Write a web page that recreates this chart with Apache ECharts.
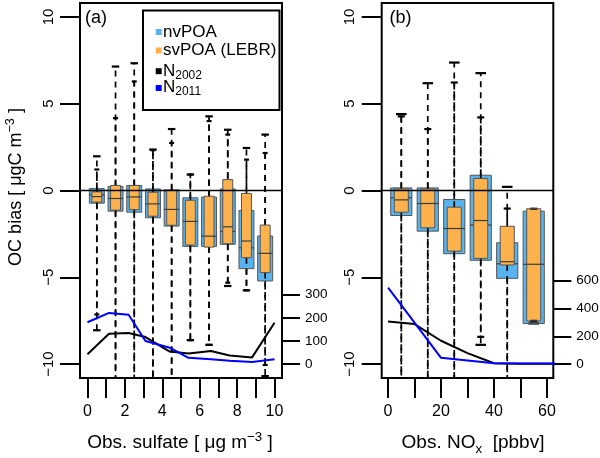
<!DOCTYPE html>
<html><head><meta charset="utf-8">
<script src="https://cdn.jsdelivr.net/npm/echarts@6/dist/echarts.min.js"></script>
<style>html,body{margin:0;padding:0;background:#fff}#c{width:600px;height:458px}</style>
</head><body><div id="c"></div>
<script>
// ---------------- DATA ----------------
// Panel (a): bins of observed sulfate (bin centres, µg m-3)
const sulfateBins = [0.5, 1.5, 2.5, 3.5, 4.5, 5.5, 6.5, 7.5, 8.5, 9.5];
// each row: [lower whisker, Q1, median, Q3, upper whisker]  (OC bias, µgC m-3)
const nvPOA_sulfate = [
  [-8.05, -0.73, -0.25,  0.11, 1.97],
  [-11.5, -1.19, -0.46,  0.23, 7.14],
  [-11.5, -1.25, -0.37,  0.29, 7.33],
  [-11.5, -1.57, -0.77,  0.09, 2.36],
  [-11.5, -2.05, -1.09,  0.04, 3.54],
  [-8.62, -3.22, -1.78, -0.42, 0.92],
  [-8.89, -3.22, -2.63, -0.38, 4.27],
  [-5.50, -3.10, -2.36,  0.09, 3.50],
  [-5.75, -4.50, -3.30, -1.15, 2.45],
  [-10.69,-5.21, -3.62, -2.62, 3.22]
];
const svPOA_sulfate = [
  [-7.14, -0.67, -0.35, -0.08, 1.21],
  [-11.5, -1.13, -0.46,  0.29, 4.17],
  [-11.5, -1.10, -0.37,  0.29, 6.28],
  [-11.5, -1.48, -0.77, -0.10, 2.32],
  [-11.5, -2.00, -1.09,  0.00, 2.74],
  [-8.62, -3.14, -1.78, -0.56, 0.92],
  [-8.89, -3.26, -2.63, -0.33, 4.00],
  [-5.31, -3.07, -2.09,  0.63, 3.22],
  [-5.75, -3.87, -2.91, -0.17, 1.78],
  [-10.05,-4.73, -3.62, -1.99, 2.16]
];
// number of sites (right axis), panel (a)
const N_sulfate_x = [0, 1.15, 2.2, 3.1, 4.4, 5.4, 6.6, 7.6, 8.8, 10];
const N2002_sulfate = [43, 131, 134, 117, 54, 46, 57, 37, 29, 179];
const N2011_sulfate = [181, 221, 213, 100, 71, 27, 21, 15, 9, 21];

// Panel (b): bins of observed NOx (bin centres, ppbv)
const noxBins = [5, 15, 25, 35, 45, 55];
const nvPOA_nox = [
  [-11.5, -1.44, -0.42,  0.15,  4.40],
  [-11.5, -2.34, -0.75,  0.15,  6.18],
  [-11.5, -3.64, -2.19, -0.52,  7.37],
  [-8.89, -4.02, -1.99,  0.88,  6.76],
  [-11.5, -5.06, -4.22, -3.01,  0.21],
  [-7.66, -7.66, -4.25, -1.19, -1.19]
];
const svPOA_nox = [
  [-11.5, -1.25, -0.54,  0.09,  4.27],
  [-11.5, -2.15, -0.75,  0.09,  3.54],
  [-11.5, -3.49, -2.19, -0.96,  6.22],
  [-8.43, -3.91, -1.73,  0.69,  4.21],
  [-11.5, -4.29, -4.10, -2.06, -1.04],
  [-7.51, -7.51, -4.25, -1.05, -1.05]
];
const N_nox_x = [0, 10, 20, 30, 40, 50, 60, 70];
const N2002_nox = [307, 288, 168, 79, 6, 3, 3, 3];
const N2011_nox = [550, 298, 45, 26, 6, 4, 4, 4];

// tick values
const biasTicks = [-10, 10, 5];      // min, max, step
const sulfateTicks = [0, 10, 1, 2];  // min, max, tick step, label step
const noxTicks = [0, 60, 10, 20];
const nSulfateTicks = [0, 300, 100];
const nNoxTicks = [0, 600, 200];

// ---------------- LAYOUT / STYLE ----------------
const FONT = '"Liberation Sans", Arial, Helvetica, sans-serif';
const BLUE_FILL = '#58b4ef', ORANGE_FILL = '#fdb24d', EDGE = '#555555';
const PA = {left: 80, right: 282, top: 3, bottom: 378, xmin: -0.4, xmax: 10.4, ymin: -10.8, ymax: 10.8, bw: 1, nTop: -6};
const PB = {left: 381.7, right: 553.3, top: 3, bottom: 378, xmin: -2.4, xmax: 62.4, ymin: -10.8, ymax: 10.8, bw: 10, nTop: -5.2};
const px = (P, x) => P.left + (x - P.xmin) / (P.xmax - P.xmin) * (P.right - P.left);
const py = (P, y) => P.top + (P.ymax - y) / (P.ymax - P.ymin) * (P.bottom - P.top);
const minus = v => v < 0 ? '\u2212' + Math.abs(v) : String(v);
const NOLINE = {show: false, onZero: false};
const G = {containLabel: false, outerBoundsMode: 'none', show: false};
const TICK = (len) => ({show: true, inside: false, length: len, lineStyle: {color: '#000', width: 2}});

// grids per panel: 0 main box, 1 x ticks, 2 y ticks, 3 N axis
function grids(P, xt) {
  const tl = px(P, xt[0]), tr = px(P, xt[1]), tt = py(P, biasTicks[1]), tb = py(P, biasTicks[0]);
  return [
    Object.assign({}, G, {left: P.left, top: P.top, width: P.right - P.left, height: P.bottom - P.top, show: true,
     borderColor: '#000', borderWidth: 2, backgroundColor: 'rgba(0,0,0,0)'}),
    Object.assign({}, G, {left: tl, top: P.top, width: tr - tl, height: P.bottom - P.top}),
    Object.assign({}, G, {left: P.left, top: tt, width: P.right - P.left, height: tb - tt}),
    Object.assign({}, G, {left: P.left, top: py(P, P.nTop), width: P.right - P.left, height: py(P, -10) - py(P, P.nTop)})
  ];
}
function xAxes(P, xt, gi) {
  return [
    {gridIndex: gi, type: 'value', min: P.xmin, max: P.xmax, show: false, axisLine: NOLINE},
    {gridIndex: gi + 1, type: 'value', min: xt[0], max: xt[1], interval: xt[2], position: 'bottom',
     axisLine: NOLINE, splitLine: {show: false}, axisTick: TICK(20),
     axisLabel: {margin: 26, fontSize: 16, color: '#000', fontFamily: FONT,
                 formatter: v => (Math.round(v) % xt[3] === 0 ? String(v) : '')}},
    {gridIndex: gi + 2, type: 'value', min: P.xmin, max: P.xmax, show: false, axisLine: NOLINE},
    {gridIndex: gi + 3, type: 'value', min: P.xmin, max: P.xmax, show: false, axisLine: NOLINE}
  ];
}
function yAxes(P, nt, gi) {
  return [
    {gridIndex: gi, type: 'value', min: P.ymin, max: P.ymax, show: false, axisLine: NOLINE},
    {gridIndex: gi + 1, type: 'value', min: P.ymin, max: P.ymax, show: false, axisLine: NOLINE},
    {gridIndex: gi + 2, type: 'value', min: biasTicks[0], max: biasTicks[1], interval: biasTicks[2], position: 'left',
     axisLine: NOLINE, splitLine: {show: false}, axisTick: TICK(20),
     axisLabel: {margin: 24, rotate: 90, fontSize: 15, color: '#000', fontFamily: FONT, formatter: minus}},
    {gridIndex: gi + 3, type: 'value', min: nt[0], max: nt[1], interval: nt[2], position: 'right',
     axisLine: NOLINE, splitLine: {show: false}, axisTick: TICK(18),
     axisLabel: {margin: 23, fontSize: 13.5, color: '#000', fontFamily: FONT}}
  ];
}

function boxSeries(name, P, bins, stats, boxFrac, fill, gi, z) {
  const boxW = boxFrac * P.bw;
  return {
    type: 'custom', name, xAxisIndex: gi, yAxisIndex: gi, z, silent: true, animation: false,
    data: bins.map((x, i) => [x].concat(stats[i])),
    encode: {x: 0, y: [1, 2, 3, 4, 5]},
    renderItem: (params, api) => {
      const x = api.value(0), lo = api.value(1), q1 = api.value(2), med = api.value(3), q3 = api.value(4), hi = api.value(5);
      const cs = params.coordSys;
      const top = cs.y, bot = cs.y + cs.height;
      const cx = api.coord([x, 0])[0];
      const Y = v => api.coord([x, v])[1];
      const clampY = y => Math.min(bot, Math.max(top, y));
      const w = api.size([boxW, 0])[0];
      const y1 = Y(q1), y3 = Y(q3);
      const rt = Math.min(y1, y3), rh = Math.abs(y1 - y3);
      const ch = [];
      ch.push({type: 'rect', shape: {x: cx - w / 2, y: rt, width: w, height: rh}, style: {fill: fill}});
      ch.push({type: 'line', shape: {x1: cx, y1: y3, x2: cx, y2: clampY(Y(hi))}, style: {stroke: '#000', lineWidth: 1.7, lineDash: [6, 5]}});
      ch.push({type: 'line', shape: {x1: cx, y1: y1, x2: cx, y2: clampY(Y(lo))}, style: {stroke: '#000', lineWidth: 1.7, lineDash: [6, 5]}});
      const sw = w * 0.5;
      [hi, lo].forEach(v => {
        const y = Y(v);
        if (y >= top - 0.5 && y <= bot + 0.5) {
          ch.push({type: 'line', shape: {x1: cx - sw / 2, y1: y, x2: cx + sw / 2, y2: y}, style: {stroke: '#000', lineWidth: 2.2}});
        }
      });
      ch.push({type: 'rect', shape: {x: cx - w / 2, y: rt, width: w, height: rh}, style: {fill: 'none', stroke: EDGE, lineWidth: 1}});
      ch.push({type: 'line', shape: {x1: cx - w / 2, y1: Y(med), x2: cx + w / 2, y2: Y(med)}, style: {stroke: '#3a3a3a', lineWidth: 1.2}});
      return {type: 'group', children: ch};
    }
  };
}
function nLine(name, xs, vals, color, gi) {
  return {type: 'line', name, xAxisIndex: gi, yAxisIndex: gi, data: xs.map((x, i) => [x, vals[i]]),
          showSymbol: false, symbol: 'none', clip: true, silent: true, animation: false, z: 3,
          lineStyle: {color, width: 2}, itemStyle: {color}};
}
function zeroLine(P, gi) {
  return {type: 'line', name: 'zero', xAxisIndex: gi, yAxisIndex: gi, data: [[P.xmin, 0], [P.xmax, 0]],
          showSymbol: false, symbol: 'none', silent: true, animation: false, z: 5,
          lineStyle: {color: '#000', width: 1.6}};
}

function richSet(size) {
  return {
    t: {fontSize: size, fontFamily: FONT, color: '#000', lineHeight: size + 6},
    p: {fontSize: size * 0.7, fontFamily: FONT, color: '#000', lineHeight: 12, verticalAlign: 'top'},
    b: {fontSize: size * 0.7, fontFamily: FONT, color: '#000', lineHeight: 12, verticalAlign: 'bottom'}
  };
}
function txt(x, y, text, opts) {
  opts = opts || {};
  return {type: 'text', x, y, rotation: opts.rot || 0, z: 20, silent: true,
          style: Object.assign({text, fill: '#000', fontSize: opts.size || 17, fontFamily: FONT,
                  align: opts.align || 'left', verticalAlign: 'middle',
                  textAlign: opts.align || 'left', textVerticalAlign: 'middle'}, opts.rich ? {rich: opts.rich} : {})};
}
const legRich = {
  m: {fontSize: 17, fontFamily: FONT, color: '#000', lineHeight: 20},
  s: {fontSize: 12, fontFamily: FONT, color: '#000', lineHeight: 12, verticalAlign: 'bottom'}
};
function legSquare(y, color) {
  return {type: 'rect', z: 20, silent: true, shape: {x: 155.7, y: y - 3, width: 6, height: 6}, style: {fill: color}};
}

const option = {
  animation: false,
  backgroundColor: '#fff',
  grid: grids(PA, sulfateTicks).concat(grids(PB, noxTicks)),
  xAxis: xAxes(PA, sulfateTicks, 0).concat(xAxes(PB, noxTicks, 4)),
  yAxis: yAxes(PA, nSulfateTicks, 0).concat(yAxes(PB, nNoxTicks, 4)),
  series: [
    boxSeries('nvPOA', PA, sulfateBins, nvPOA_sulfate, 0.8, BLUE_FILL, 0, 2),
    boxSeries('svPOA (LEBR)', PA, sulfateBins, svPOA_sulfate, 0.53, ORANGE_FILL, 0, 3),
    zeroLine(PA, 0),
    nLine('N2002', N_sulfate_x, N2002_sulfate, '#000000', 3),
    nLine('N2011', N_sulfate_x, N2011_sulfate, '#0000ff', 3),
    boxSeries('nvPOA', PB, noxBins, nvPOA_nox, 0.8, BLUE_FILL, 4, 2),
    boxSeries('svPOA (LEBR)', PB, noxBins, svPOA_nox, 0.53, ORANGE_FILL, 4, 3),
    zeroLine(PB, 4),
    nLine('N2002', N_nox_x, N2002_nox, '#000000', 7),
    nLine('N2011', N_nox_x, N2011_nox, '#0000ff', 7)
  ],
  graphic: {elements: [
    // legend
    {type: 'rect', z: 19, silent: true, shape: {x: 143, y: 10.5, width: 136.5, height: 99.5},
     style: {fill: 'rgba(0,0,0,0)', stroke: '#000', lineWidth: 2}},
    legSquare(32, BLUE_FILL), legSquare(50.5, ORANGE_FILL), legSquare(71.2, '#000000'), legSquare(88, '#0000ff'),
    txt(163, 32.2, 'nvPOA'),
    txt(163, 50.5, 'svPOA (LEBR)'),
    txt(163, 71.2, '{m|N}{s|2002}', {rich: legRich}),
    txt(163, 87.8, '{m|N}{s|2011}', {rich: legRich}),
    // panel labels
    txt(85, 18.5, '(a)', {size: 18}),
    txt(389.5, 18.5, '(b)', {size: 18}),
    // axis titles
    txt(16, 187, '{t|OC bias [ \u03bcgC m}{p|\u22123}{t| ]}', {align: 'center', rot: Math.PI / 2, rich: richSet(18)}),
    txt(180, 443, '{t|Obs. sulfate [ \u03bcg m}{p|\u22123}{t| ]}', {align: 'center', rich: richSet(19)}),
    txt(473, 443, '{t|Obs. NO}{b|x}{t|  [pbbv]}', {align: 'center', rich: richSet(19)})
  ]}
};
const chart = echarts.init(document.getElementById('c'), null, {renderer: 'canvas', width: 600, height: 458});
chart.setOption(option);
</script>
</body></html>
